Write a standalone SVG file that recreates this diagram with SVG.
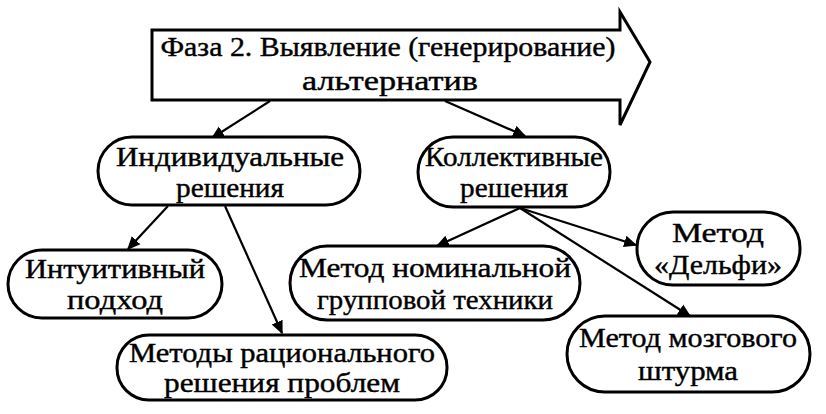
<svg xmlns="http://www.w3.org/2000/svg" width="826" height="414" viewBox="0 0 826 414">
<style>
.n{fill:#fff;stroke:#000;stroke-width:3}
.t{font-family:"Liberation Serif",serif;font-size:27px;font-weight:normal;fill:#000;stroke:#000;stroke-width:0.4;text-anchor:middle}
.c line{stroke:#000;stroke-width:2.2;marker-end:url(#a)}
</style>
<defs><marker id="a" viewBox="0 0 10 10" refX="9" refY="5" markerWidth="6" markerHeight="6" orient="auto"><path d="M0,0.5 L10,5 L0,9.5 z" fill="#000"/></marker></defs>
<rect width="826" height="414" fill="#fff"/>
<g id="phase"><path class="n" d="M152,30 H620 V12 L650,62 L620,125 V100 H152 Z"/>
<text class="t" x="388" y="56" textLength="455" lengthAdjust="spacingAndGlyphs">Фаза 2. Выявление (генерирование)</text>
<text class="t" x="390" y="90" textLength="176" lengthAdjust="spacingAndGlyphs">альтернатив</text></g>
<g class="c">
<line x1="270" y1="101" x2="212" y2="138"/>
<line x1="445" y1="101" x2="525" y2="136"/>
<line x1="168" y1="206" x2="128" y2="249"/>
<line x1="225" y1="206" x2="282" y2="333"/>
<line x1="520" y1="208" x2="437" y2="246"/>
<line x1="520" y1="208" x2="636" y2="245"/>
<line x1="520" y1="208" x2="690" y2="316"/>
</g>
<g id="ind"><rect class="n" x="98" y="137" width="262" height="68" rx="34"/><text class="t" x="230" y="166" textLength="228" lengthAdjust="spacingAndGlyphs">Индивидуальные</text><text class="t" x="230" y="197" textLength="108" lengthAdjust="spacingAndGlyphs">решения</text></g>
<g id="kol"><rect class="n" x="418" y="137" width="192" height="70" rx="35"/><text class="t" x="514" y="166" textLength="178" lengthAdjust="spacingAndGlyphs">Коллективные</text><text class="t" x="514" y="197" textLength="108" lengthAdjust="spacingAndGlyphs">решения</text></g>
<g id="int"><rect class="n" x="8" y="250" width="214" height="68" rx="34"/><text class="t" x="115" y="278" textLength="180" lengthAdjust="spacingAndGlyphs">Интуитивный</text><text class="t" x="115" y="309" textLength="96" lengthAdjust="spacingAndGlyphs">подход</text></g>
<g id="nom"><rect class="n" x="290" y="246" width="290" height="74" rx="37"/><text class="t" x="435" y="277" textLength="272" lengthAdjust="spacingAndGlyphs">Метод номинальной</text><text class="t" x="435" y="309" textLength="236" lengthAdjust="spacingAndGlyphs">групповой техники</text></g>
<g id="del"><rect class="n" x="637" y="212" width="163" height="73" rx="36"/><text class="t" x="718" y="242" textLength="92" lengthAdjust="spacingAndGlyphs">Метод</text><text class="t" x="718" y="274" textLength="128" lengthAdjust="spacingAndGlyphs">«Дельфи»</text></g>
<g id="rac"><rect class="n" x="117" y="335" width="330" height="65" rx="32"/><text class="t" x="282" y="362" textLength="306" lengthAdjust="spacingAndGlyphs">Методы рационального</text><text class="t" x="282" y="392" textLength="236" lengthAdjust="spacingAndGlyphs">решения проблем</text></g>
<g id="moz"><rect class="n" x="567" y="316" width="243" height="76" rx="38"/><text class="t" x="688" y="347" textLength="218" lengthAdjust="spacingAndGlyphs">Метод мозгового</text><text class="t" x="688" y="380" textLength="100" lengthAdjust="spacingAndGlyphs">штурма</text></g>
</svg>
